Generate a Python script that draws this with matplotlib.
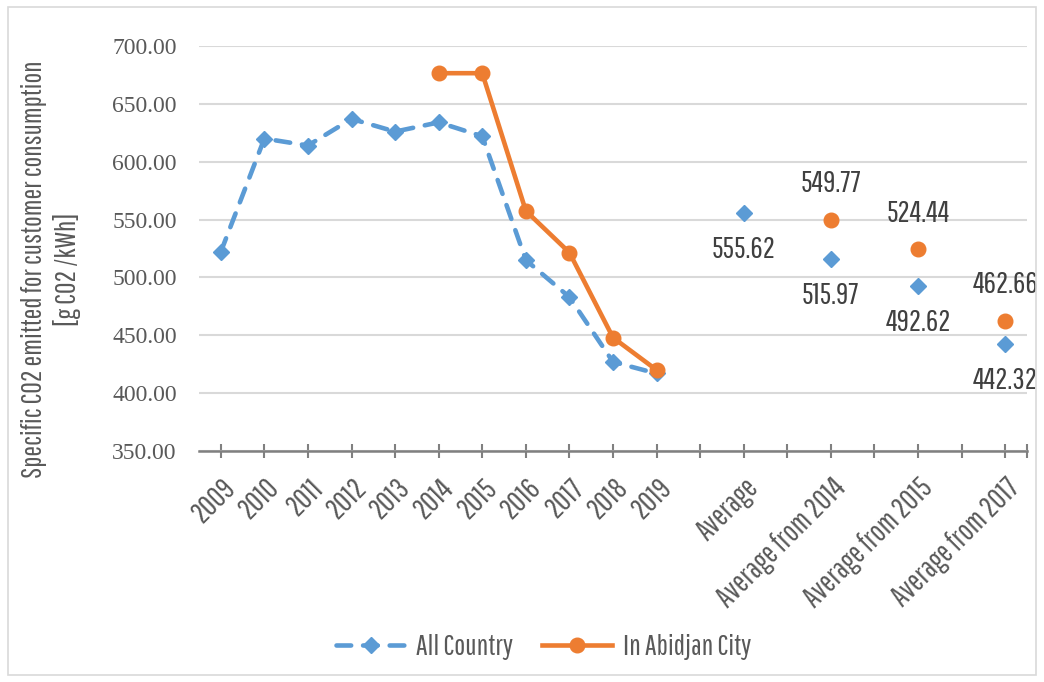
import numpy as np
import matplotlib
matplotlib.use("Agg")
import matplotlib.pyplot as plt
from matplotlib.patches import Rectangle

nan = np.nan

categories = ["2009", "2010", "2011", "2012", "2013", "2014", "2015", "2016",
              "2017", "2018", "2019", "", "Average", "", "Average from 2014",
              "", "Average from 2015", "", "Average from 2017"]

all_country = [522, 620, 614, 637, 626, 634, 622, 515, 483, 427, 417,
               nan, 555.62, nan, 515.97, nan, 492.62, nan, 442.32]
abidjan = [nan, nan, nan, nan, nan, 676.5, 676.5, 557.5, 521.5, 448, 420,
           nan, nan, nan, 549.77, nan, 524.44, nan, 462.66]

# only the average points carry data labels
label_idx = [12, 14, 16, 18]

blue = "#5B9BD5"
orange = "#ED7D31"
grey_txt = "#595959"
narrow = ["Pathway Gothic One", "Roboto Condensed", "Open Sans Condensed", "DejaVu Sans"]

fig = plt.figure(figsize=(10.44, 6.82), dpi=100)
ax = fig.add_axes([199/1044, 1 - 451/682, (1027 - 199)/1044, (451 - 46)/682])

x = np.arange(len(categories))
ax.plot(x, all_country, color=blue, lw=3.3, ls=(0, (3.2, 2.6)),
        dash_capstyle="round", marker="D", ms=8, label="All Country", zorder=3)
ax.plot(x, abidjan, color=orange, lw=3.3, marker="o", ms=10.5,
        label="In Abidjan City", zorder=4)

for i in label_idx:
    v = all_country[i]
    if not np.isnan(v):
        ax.annotate(f"{v:.2f}", (x[i], v), xytext=(0, -26), textcoords="offset points",
                    ha="center", va="center", fontsize=22, family=narrow, color="#404040")
    v = abidjan[i]
    if not np.isnan(v):
        ax.annotate(f"{v:.2f}", (x[i], v), xytext=(0, 26), textcoords="offset points",
                    ha="center", va="center", fontsize=22, family=narrow, color="#404040")

ax.set_xlim(-0.5, 18.5)
ax.set_ylim(350, 700)
ax.set_yticks(np.arange(350, 701, 50))
ax.set_yticklabels([f"{v:.2f}" for v in np.arange(350, 701, 50)],
                   family="Liberation Serif", fontsize=17, color=grey_txt)
ax.set_xticks(x)
ax.set_xticklabels(categories, rotation=45, ha="right", rotation_mode="anchor",
                   family=narrow, fontsize=21.5, color=grey_txt)
ax.set_xticks([18.5], minor=True)
ax.tick_params(axis="x", which="both", direction="inout", length=10, width=1.5,
               color="#808080", pad=11)
ax.tick_params(axis="y", length=0, pad=16)

ax.grid(axis="y", color="#d9d9d9", lw=1.5)
ax.set_axisbelow(True)
for s in ["top", "right", "left"]:
    ax.spines[s].set_visible(False)
ax.spines["bottom"].set_color("#808080")
ax.spines["bottom"].set_linewidth(1.8)
ax.spines["bottom"].set_zorder(2)

fig.text(51/1044, 0.605, "Specific CO2 emitted for customer consumption\n[g CO2 /kWh]",
         rotation=90, ha="center", va="center", multialignment="center",
         family=narrow, fontsize=20.5, color=grey_txt, linespacing=1.3)

fig.legend(loc="center", bbox_to_anchor=(0.5206, 0.051), ncol=2, frameon=False,
           prop={"family": narrow, "size": 21}, handlelength=2.4, handletextpad=0.35,
           columnspacing=1.0, labelcolor=grey_txt)

fig.patches.append(Rectangle((8/1044, 7/682), 1028/1044, 668/682,
                             transform=fig.transFigure, fill=False,
                             edgecolor="#d9d9d9", lw=1.2))

fig.savefig("out.png", dpi=100)
